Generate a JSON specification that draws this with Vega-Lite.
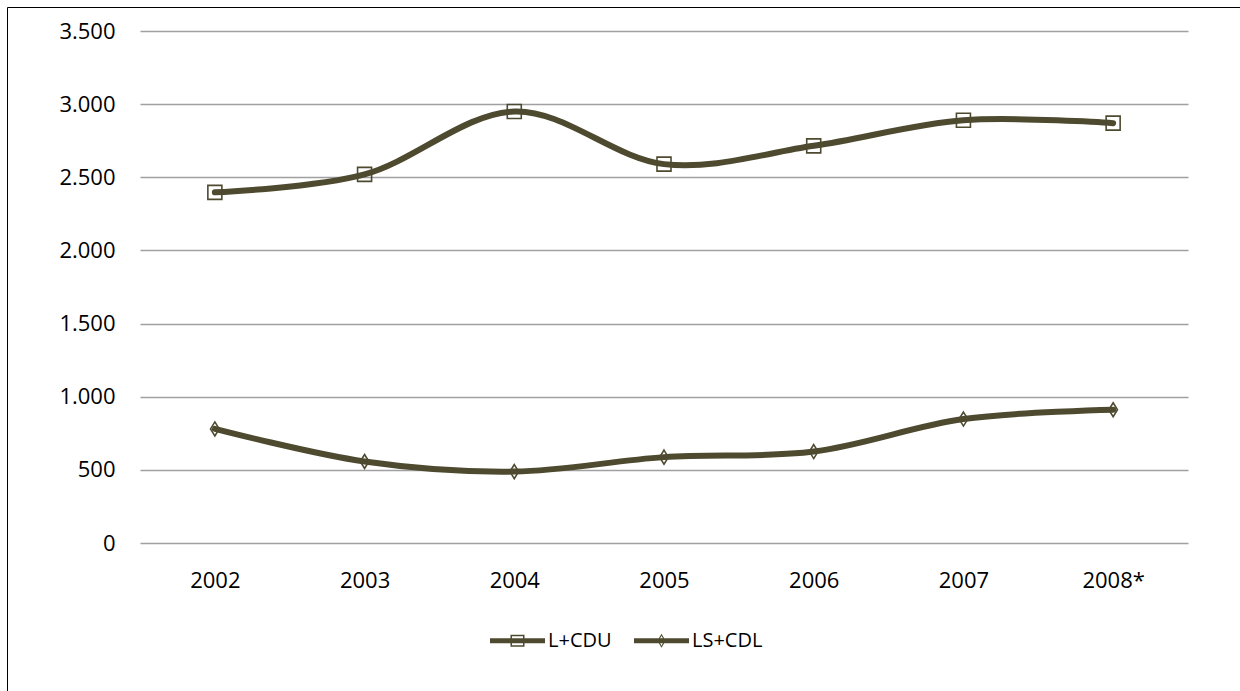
{
  "$schema": "https://vega.github.io/schema/vega-lite/v6.json",
  "width": 1048,
  "height": 512,
  "autosize": {"type": "none"},
  "padding": {"left": 140, "top": 31, "right": 52, "bottom": 148},
  "background": "#ffffff",
  "config": {
    "font": "Open Sans",
    "view": {"stroke": null},
    "axis": {"labelFont": "Open Sans", "labelFontSize": 22, "labelColor": "#000000"},
    "legend": {"labelFont": "Open Sans", "labelFontSize": 20, "labelColor": "#000000"}
  },
  "data": {
    "values": [
      {"year": "2002", "series": "L+CDU", "value": 2397},
      {"year": "2003", "series": "L+CDU", "value": 2520},
      {"year": "2004", "series": "L+CDU", "value": 2950},
      {"year": "2005", "series": "L+CDU", "value": 2590},
      {"year": "2006", "series": "L+CDU", "value": 2715},
      {"year": "2007", "series": "L+CDU", "value": 2890},
      {"year": "2008*", "series": "L+CDU", "value": 2870},
      {"year": "2002", "series": "LS+CDL", "value": 780},
      {"year": "2003", "series": "LS+CDL", "value": 557},
      {"year": "2004", "series": "LS+CDL", "value": 488},
      {"year": "2005", "series": "LS+CDL", "value": 587},
      {"year": "2006", "series": "LS+CDL", "value": 625},
      {"year": "2007", "series": "LS+CDL", "value": 847},
      {"year": "2008*", "series": "LS+CDL", "value": 911}
    ]
  },
  "encoding": {
    "x": {
      "field": "year",
      "type": "ordinal",
      "sort": null,
      "scale": {"type": "point", "padding": 0.5},
      "axis": {"title": null, "domain": false, "ticks": false, "grid": false, "labelAngle": 0, "labelPadding": 27}
    },
    "y": {
      "field": "value",
      "type": "quantitative",
      "scale": {"domain": [0, 3500], "nice": false},
      "axis": {
        "title": null,
        "domain": false,
        "ticks": false,
        "values": [0, 500, 1000, 1500, 2000, 2500, 3000, 3500],
        "grid": true,
        "gridColor": "#a0a0a0",
        "gridWidth": 1.6,
        "labelPadding": 25,
        "labelExpr": "replace(format(datum.value, ','), ',', '.')"
      }
    }
  },
  "layer": [
    {
      "mark": {"type": "line", "interpolate": "cardinal", "tension": 0, "strokeWidth": 6, "strokeCap": "round"},
      "encoding": {
        "color": {
          "field": "series",
          "type": "nominal",
          "scale": {"domain": ["L+CDU", "LS+CDL"], "range": ["#4e4a2f", "#4e4a2f"]},
          "legend": {
            "title": null,
            "orient": "none",
            "direction": "horizontal",
            "legendX": 350,
            "legendY": 582,
            "padding": 0,
            "symbolSize": 3025,
            "labelOffset": 3,
            "columnPadding": 22,
            "encode": {
              "symbols": {
                "update": {
                  "shape": {"signal": "datum.value === 'L+CDU' ? 'M-1,-0.095H1V0.095H-1Z M-0.255,-0.22H0.255V0.22H-0.255Z M-0.2,-0.165V0.165H0.2V-0.165Z' : 'M-1,-0.095H1V0.095H-1Z M0,-0.255L0.15,0L0,0.255L-0.15,0Z M0,-0.185L-0.1,0L0,0.185L0.1,0Z'"},
                  "fill": {"value": "#4e4a2f"},
                  "fillOpacity": {"value": 1},
                  "stroke": {"value": "transparent"},
                  "strokeWidth": {"value": 0},
                  "opacity": {"value": 1}
                }
              }
            }
          }
        }
      }
    },
    {
      "mark": {"type": "point", "filled": false, "stroke": "#4e4a2f", "strokeWidth": 1.6, "size": 196, "opacity": 1},
      "encoding": {
        "shape": {
          "field": "series",
          "type": "nominal",
          "scale": {"range": ["square", "M0,-1L0.62,0L0,1L-0.62,0Z"]},
          "legend": {
            "title": null,
            "orient": "none",
            "direction": "horizontal",
            "legendX": -133,
            "legendY": -24,
            "padding": 900,
            "strokeColor": "#000000",
            "symbolOpacity": 0,
            "labelOpacity": 0,
            "labelFontSize": 1,
            "labelExpr": "''",
            "symbolSize": 1,
            "encode": {"legend": {"update": {"strokeWidth": {"value": 2.5}}}}
          }
        }
      }
    }
  ]
}
